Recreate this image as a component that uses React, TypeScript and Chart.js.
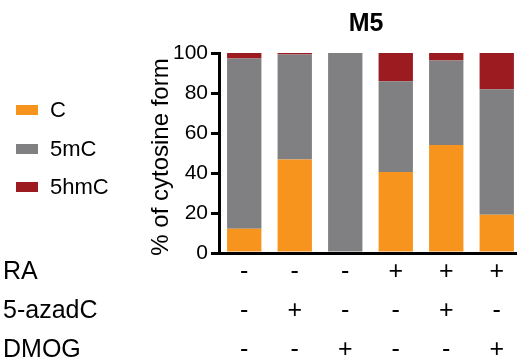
import React, { useEffect, useRef } from "react";
import { Chart, registerables } from "chart.js";

Chart.register(...registerables);

const categories = ["1", "2", "3", "4", "5", "6"];
const cValues = [12.1, 46.7, 0, 40.5, 54.0, 19.1];
const mcValues = [85.2, 52.6, 100, 45.4, 42.3, 62.8];
const hmcValues = [2.7, 0.7, 0, 14.1, 3.7, 18.1];
const seriesNames = ["C", "5mC", "5hmC"];
const seriesColors = ["#F7941D", "#808083", "#9B1B20"];
const rowLabels = ["RA", "5-azadC", "DMOG"];
const raRow = ["-", "-", "-", "+", "+", "+"];
const azaRow = ["-", "+", "-", "-", "+", "-"];
const dmogRow = ["-", "-", "+", "-", "-", "+"];
const titleText = "M5";
const yTitle = "% of cytosine form";

const FONT = '"Liberation Sans", Arial, Helvetica, sans-serif';

export default function App() {
  const ref = useRef<HTMLCanvasElement | null>(null);

  useEffect(() => {
    document.documentElement.style.overflow = "hidden";
    const canvas = ref.current;
    if (!canvas) return;

    const overlay = {
      id: "overlay",
      afterDraw(chart: any) {
        const ctx = chart.ctx;
        const xs = chart.scales.x;
        ctx.save();
        ctx.fillStyle = "#000";
        // title
        ctx.font = `bold 25px ${FONT}`;
        ctx.textAlign = "center";
        ctx.textBaseline = "middle";
        ctx.fillText(titleText, 366, 24);
        // y title
        ctx.save();
        ctx.translate(161, 157);
        ctx.rotate(-Math.PI / 2);
        ctx.font = `24px ${FONT}`;
        ctx.fillText(yTitle, 0, 0);
        ctx.restore();
        // legend
        const legendY = [110, 149, 187];
        ctx.font = `22px ${FONT}`;
        ctx.textAlign = "left";
        seriesNames.forEach((n, i) => {
          ctx.fillStyle = seriesColors[i];
          ctx.fillRect(16, legendY[i] - 5, 22, 10);
          ctx.fillStyle = "#000";
          ctx.fillText(n, 50, legendY[i] + 1);
        });
        // table
        ctx.font = `25px ${FONT}`;
        const rows = [raRow, azaRow, dmogRow];
        const rowY = [272, 311, 350];
        rows.forEach((row, r) => {
          ctx.textAlign = "left";
          ctx.fillText(rowLabels[r], 3, rowY[r]);
          ctx.textAlign = "center";
          row.forEach((s, i) => {
            const x = xs.getPixelForValue(i);
            ctx.fillText(s, x, rowY[r]);
          });
        });
        ctx.restore();
      },
    };

    const chart = new Chart(canvas, {
      type: "bar",
      data: {
        labels: categories,
        datasets: [
          { label: seriesNames[0], data: cValues, backgroundColor: seriesColors[0] },
          { label: seriesNames[1], data: mcValues, backgroundColor: seriesColors[1] },
          { label: seriesNames[2], data: hmcValues, backgroundColor: seriesColors[2] },
        ],
      },
      options: {
        responsive: false,
        animation: false,
        devicePixelRatio: 1,
        layout: { padding: { top: 53, left: 0, right: 0, bottom: 0 } },
        datasets: { bar: { categoryPercentage: 1, barPercentage: 0.68 } },
        plugins: { legend: { display: false }, tooltip: { enabled: false }, title: { display: false } },
        scales: {
          x: {
            stacked: true,
            grid: { display: false, drawTicks: false },
            ticks: { display: false },
            border: { display: true, color: "#000", width: 3 },
            afterFit: (s: any) => {
              s.height = 110;
            },
          },
          y: {
            stacked: true,
            min: 0,
            max: 100,
            ticks: {
              stepSize: 20,
              color: "#000",
              padding: 3,
              font: { family: FONT, size: 21 },
            },
            grid: {
              display: true,
              drawOnChartArea: false,
              drawTicks: true,
              tickLength: 8,
              color: "#000",
              lineWidth: 3,
            },
            border: { display: true, color: "#000", width: 3 },
            afterFit: (s: any) => {
              s.width = 219;
            },
          },
        },
      },
      plugins: [overlay],
    } as any);

    return () => chart.destroy();
  }, []);

  return (
    <div style={{ position: "fixed", left: 0, top: 0, width: 522, height: 363, background: "#fff" }}>
      <canvas ref={ref} width={522} height={363} />
    </div>
  );
}
